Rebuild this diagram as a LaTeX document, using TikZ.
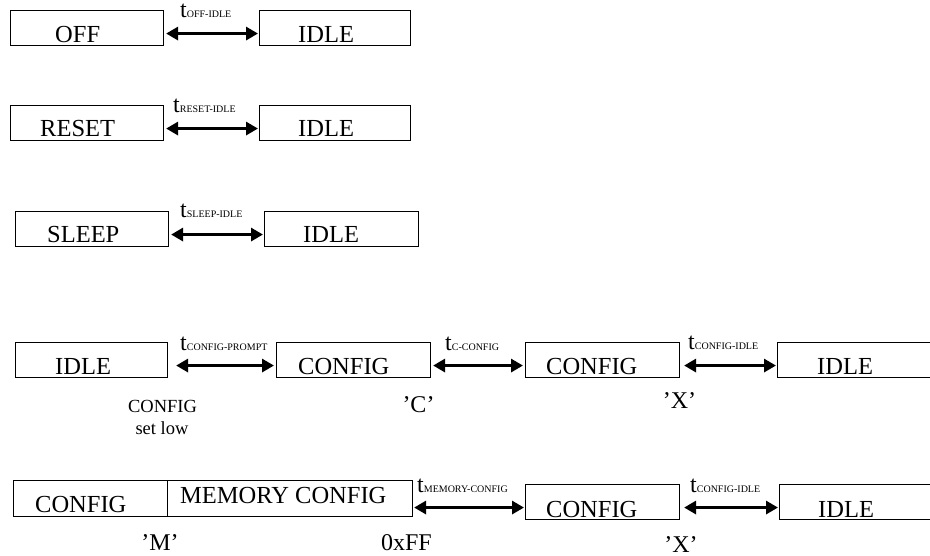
\documentclass[tikz,border=0pt]{standalone}
\usepackage{fontspec}
\setmainfont{Liberation Serif}
\usetikzlibrary{arrows.meta}
\newcommand\tlab[1]{{\fontsize{24}{24}\selectfont t}{\fontsize{10}{10}\selectfont #1}}
\tikzset{
  box/.style={draw, line width=1.1pt, inner sep=0pt, anchor=north west, minimum height=35pt},
  btxt/.style={anchor=base west, inner sep=0pt, font=\fontsize{24.5}{24.5}\selectfont},
  tl/.style={anchor=base west, inner sep=0pt},
  note/.style={anchor=base, inner sep=0pt, font=\fontsize{24}{24}\selectfont},
  small/.style={anchor=base, inner sep=0pt, font=\fontsize{18.5}{18.5}\selectfont},
  dbl/.style={line width=3.6pt, {Triangle[length=12pt,width=13pt]}-{Triangle[length=12pt,width=13pt]}}
}
\begin{document}
\begin{tikzpicture}[x=1pt,y=-1pt]
\useasboundingbox (0,0) rectangle (930,556);
% row 1
\node[box, minimum width=153pt] (r1a) at (10,10) {};
\node[box, minimum width=151pt] (r1b) at (259,10) {};
\node[btxt] (t1a) at (55,43) {OFF};
\node[btxt] (t1b) at (298,43) {IDLE};
\draw[dbl, shorten <=2pt, shorten >=1pt] ([yshift=-5.5pt]r1a.east) -- ([yshift=-5.5pt]r1b.west);
\node[tl] (l1) at (180,18) {\tlab{OFF-IDLE}};
% row 2
\node[box, minimum width=153pt] (r2a) at (10,105) {};
\node[box, minimum width=151pt] (r2b) at (259,105) {};
\node[btxt] (t2a) at (40,137) {RESET};
\node[btxt] (t2b) at (298,137) {IDLE};
\draw[dbl, shorten <=2pt, shorten >=1pt] ([yshift=-5.5pt]r2a.east) -- ([yshift=-5.5pt]r2b.west);
\node[tl] (l2) at (173,113) {\tlab{RESET-IDLE}};
% row 3
\node[box, minimum width=153pt] (r3a) at (15,211) {};
\node[box, minimum width=154pt] (r3b) at (264,211) {};
\node[btxt] (t3a) at (47,243) {SLEEP};
\node[btxt] (t3b) at (303,243) {IDLE};
\draw[dbl, shorten <=2pt, shorten >=1pt] ([yshift=-5.5pt]r3a.east) -- ([yshift=-5.5pt]r3b.west);
\node[tl] (l3) at (180,218) {\tlab{SLEEP-IDLE}};
% row 4
\node[box, minimum width=152pt] (r4a) at (15,342) {};
\node[box, minimum width=154pt] (r4b) at (276,342) {};
\node[box, minimum width=154pt] (r4c) at (525,342) {};
\node[box, minimum width=160pt] (r4d) at (777,342) {};
\node[btxt] (t4a) at (55,374) {IDLE};
\node[btxt] (t4b) at (298,374) {CONFIG};
\node[btxt] (t4c) at (546,374) {CONFIG};
\node[btxt] (t4d) at (817,374) {IDLE};
\draw[dbl, shorten <=8pt, shorten >=2pt] ([yshift=-5.5pt]r4a.east) -- ([yshift=-5.5pt]r4b.west);
\draw[dbl, shorten <=2pt, shorten >=2pt] ([yshift=-5.5pt]r4b.east) -- ([yshift=-5.5pt]r4c.west);
\draw[dbl, shorten <=4pt, shorten >=1pt] ([yshift=-5.5pt]r4c.east) -- ([yshift=-5.5pt]r4d.west);
\node[tl] (l4a) at (180,351) {\tlab{CONFIG-PROMPT}};
\node[tl] (l4b) at (445,351) {\tlab{C-CONFIG}};
\node[tl] (l4c) at (688,350) {\tlab{CONFIG-IDLE}};
\node[small] (n4a) at (162.5,413) {CONFIG};
\node[small] (n4b) at (162,434) {set low};
\node[note] (n4c) at (418.5,412) {’C’};
\node[note] (n4d) at (679.5,408) {’X’};
% row 5
\node[box, minimum width=154pt, minimum height=36pt] (r5a) at (13,480) {};
\node[box, minimum width=245pt, minimum height=36pt] (r5b) at (167,480) {};
\node[box, minimum width=154pt] (r5c) at (525,484) {};
\node[box, minimum width=160pt] (r5d) at (779,484) {};
\node[btxt] (t5a) at (35,512) {CONFIG};
\node[btxt] (t5b) at (180,503) {MEMORY CONFIG};
\node[btxt] (t5c) at (546,517) {CONFIG};
\node[btxt] (t5d) at (818,517) {IDLE};
\draw[dbl, shorten <=1pt, shorten >=1pt] ([yshift=-9pt]r5b.east) -- ([yshift=-5.5pt]r5c.west);
\draw[dbl, shorten <=4pt, shorten >=1pt] ([yshift=-5.5pt]r5c.east) -- ([yshift=-5.5pt]r5d.west);
\node[tl] (l5a) at (417,492) {\tlab{MEMORY-CONFIG}};
\node[tl] (l5b) at (690,492) {\tlab{CONFIG-IDLE}};
\node[note] (n5a) at (160,550) {’M’};
\node[note] (n5b) at (406.5,550) {0xFF};
\node[note] (n5c) at (681,552) {’X’};
\end{tikzpicture}
\end{document}
